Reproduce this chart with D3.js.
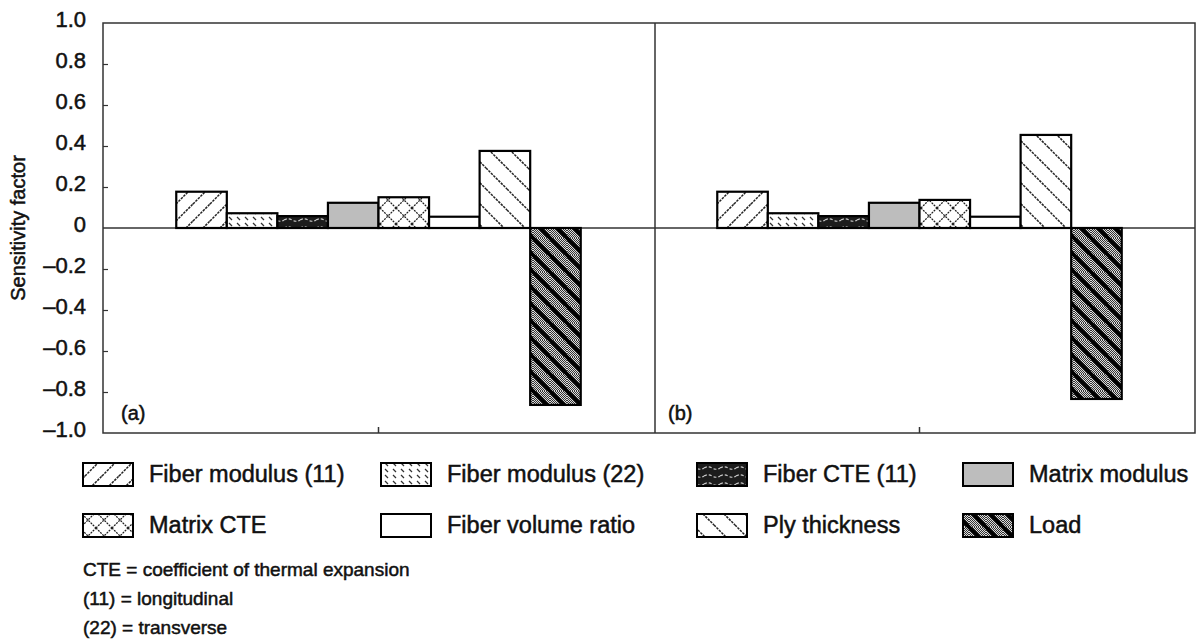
<!DOCTYPE html>
<html lang="en">

<head>
    <meta charset="UTF-8">
    <script src="https://d3js.org/d3.v7.min.js"></script>
    <title>Sensitivity factors</title>
    <style>
        body { margin: 0; background: #fff; }
        text { font-family: "Liberation Sans", Arial, sans-serif; fill: #111; stroke: #111; stroke-width: 0.5px; }
    </style>
</head>

<body>
    <script>
        // data
        let panels = ["(a)", "(b)"];
        let factors = ["Fiber modulus (11)", "Fiber modulus (22)", "Fiber CTE (11)", "Matrix modulus",
            "Matrix CTE", "Fiber volume ratio", "Ply thickness", "Load"];
        let valuesA = [0.177, 0.072, 0.058, 0.123, 0.150, 0.055, 0.376, -0.863];
        let valuesB = [0.177, 0.072, 0.058, 0.123, 0.137, 0.055, 0.454, -0.834];
        let yTicks = [-1.0, -0.8, -0.6, -0.4, -0.2, 0, 0.2, 0.4, 0.6, 0.8, 1.0];
        let notes = ["CTE = coefficient of thermal expansion", "(11) = longitudinal", "(22) = transverse"];

        let fills = ["url(#pFm11)", "url(#pFm22)", "url(#pCte11)", "#bdbdbd",
            "url(#pMcte)", "#ffffff", "url(#pPly)", "url(#pLoad)"];

        let width = 1200, height = 641;
        let plotLeft = 103, plotRight = 1195, plotTop = 23, plotBottom = 433, divider = 655;

        let svg = d3.select("body").append("svg")
            .attr("width", width)
            .attr("height", height);

        // ---- hatch patterns
        let defs = svg.append("defs");
        function hatch(id, size, d, color, w, dash) {
            let p = defs.append("pattern")
                .attr("id", id)
                .attr("patternUnits", "userSpaceOnUse")
                .attr("width", size)
                .attr("height", size);
            p.append("rect").attr("width", size).attr("height", size).attr("fill", "#fff");
            p.append("path")
                .attr("d", d)
                .attr("stroke", color)
                .attr("stroke-width", w)
                .attr("stroke-dasharray", dash)
                .attr("fill", "none");
            return p;
        }
        let s = 17;
        hatch("pFm11", s, `M0,${s} L${s},0 M-4,4 L4,-4 M${s - 4},${s + 4} L${s + 4},${s - 4}`, "#222", 1.5, "2.5,1");
        let t = 21;
        hatch("pPly", t, `M0,0 L${t},${t} M-4,${t - 4} L4,${t + 4} M${t - 4},-4 L${t + 4},4`, "#222", 1.5, "2.5,1");
        let c = 16;
        hatch("pMcte", c, `M0,${c} L${c},0 M-4,4 L4,-4 M${c - 4},${c + 4} L${c + 4},${c - 4} M0,0 L${c},${c} M-4,${c - 4} L4,${c + 4} M${c - 4},-4 L${c + 4},4`, "#222", 1.3, "2,1");

        let fm22 = defs.append("pattern").attr("id", "pFm22")
            .attr("patternUnits", "userSpaceOnUse").attr("width", 8).attr("height", 6);
        fm22.append("rect").attr("width", 8).attr("height", 6).attr("fill", "#fff");
        fm22.append("path").attr("d", "M1,1 L4,4").attr("stroke", "#333").attr("stroke-width", 1.3);

        let cte = defs.append("pattern").attr("id", "pCte11")
            .attr("patternUnits", "userSpaceOnUse").attr("width", 16).attr("height", 8);
        cte.append("rect").attr("width", 16).attr("height", 8).attr("fill", "#1c1c1c");
        cte.append("path").attr("d", "M0,4 Q4,1.5 8,4 T16,4")
            .attr("stroke", "#c8c8c8").attr("stroke-width", 1.2)
            .attr("stroke-dasharray", "3,2").attr("fill", "none");

        let chk = defs.append("pattern").attr("id", "pChk")
            .attr("patternUnits", "userSpaceOnUse").attr("width", 2).attr("height", 2);
        chk.append("rect").attr("width", 2).attr("height", 2).attr("fill", "#333");
        chk.append("rect").attr("width", 1).attr("height", 1).attr("fill", "#dcdcdc");
        chk.append("rect").attr("x", 1).attr("y", 1).attr("width", 1).attr("height", 1).attr("fill", "#dcdcdc");

        let L = 17;
        let load = defs.append("pattern").attr("id", "pLoad")
            .attr("patternUnits", "userSpaceOnUse").attr("width", L).attr("height", L);
        load.append("rect").attr("width", L).attr("height", L).attr("fill", "url(#pChk)");
        load.append("path")
            .attr("d", `M0,0 L${L},${L} M-4,${L - 4} L4,${L + 4} M${L - 4},-4 L${L + 4},4`)
            .attr("stroke", "#000").attr("stroke-width", 3.8);

        // ---- scales
        let x0 = d3.scaleBand()
            .domain(panels)
            .range([108, 1190]);
        let x1 = d3.scaleBand()
            .domain(factors)
            .range([0, x0.bandwidth()])
            .paddingInner(0)
            .paddingOuter(1.35);
        let y = d3.scaleLinear()
            .domain([-1, 1])
            .range([plotBottom, plotTop]);

        // ---- axis
        let fmt = v => v === 0 ? "0" : (v < 0 ? "\u2013" : "") + Math.abs(v).toFixed(1);
        let yAxis = d3.axisLeft(y)
            .tickValues(yTicks)
            .tickSizeInner(-5)
            .tickSizeOuter(0)
            .tickPadding(17)
            .tickFormat(fmt);
        let ax = svg.append("g")
            .attr("transform", `translate(${plotLeft},0)`)
            .call(yAxis);
        ax.select(".domain").remove();
        ax.selectAll(".tick line").attr("stroke", "#333").attr("stroke-width", 1.2)
            .filter(d => d === 1 || d === -1 || d === 0).remove();
        ax.selectAll(".tick text")
            .attr("font-size", 22)
            .attr("dy", "0.14em")
            .style("font-family", "'Liberation Sans', Arial, sans-serif")
            .attr("fill", "#111");

        svg.append("text")
            .attr("transform", `translate(25,${y(0)}) rotate(-90)`)
            .attr("text-anchor", "middle")
            .attr("font-size", 20)
            .text("Sensitivity factor");

        // frame
        let frame = svg.append("g").attr("stroke", "#333").attr("stroke-width", 1.5).attr("fill", "none");
        frame.append("rect")
            .attr("x", plotLeft).attr("y", plotTop)
            .attr("width", plotRight - plotLeft).attr("height", plotBottom - plotTop);
        frame.append("line")
            .attr("x1", divider).attr("x2", divider)
            .attr("y1", plotTop).attr("y2", plotBottom);
        frame.append("line")
            .attr("x1", plotLeft).attr("x2", plotRight)
            .attr("y1", y(0)).attr("y2", y(0));
        panels.forEach(p => {
            frame.append("line")
                .attr("x1", x0(p) + x0.bandwidth() / 2).attr("x2", x0(p) + x0.bandwidth() / 2)
                .attr("y1", plotBottom).attr("y2", plotBottom - 6);
        });

        // panel labels
        svg.append("text")
            .attr("x", plotLeft + 18).attr("y", 420)
            .attr("font-size", 20)
            .text(panels[0]);
        svg.append("text")
            .attr("x", divider + 13).attr("y", 420)
            .attr("font-size", 20)
            .text(panels[1]);

        // ---- bars
        let series = [valuesA, valuesB];
        panels.forEach((p, pi) => {
            let g = svg.append("g").attr("transform", `translate(${x0(p)},0)`);
            g.selectAll("rect")
                .data(factors.map((f, i) => ({ f: f, v: series[pi][i], fill: fills[i] })))
                .join("rect")
                .attr("x", d => x1(d.f))
                .attr("y", d => y(Math.max(0, d.v)))
                .attr("width", x1.bandwidth())
                .attr("height", d => Math.abs(y(d.v) - y(0)))
                .attr("fill", d => d.fill)
                .attr("stroke", "#000")
                .attr("stroke-width", 2.2);
        });

        // ---- legend
        let legendCols = [83, 381, 697, 963];
        let legendRows = [463, 514];
        factors.forEach((f, i) => {
            let lx = legendCols[i % 4];
            let ly = legendRows[Math.floor(i / 4)];
            svg.append("rect")
                .attr("x", lx).attr("y", ly)
                .attr("width", 50).attr("height", 23)
                .attr("fill", fills[i])
                .attr("stroke", "#000")
                .attr("stroke-width", 2);
            svg.append("text")
                .attr("x", lx + 66).attr("y", ly + 19)
                .attr("font-size", 23.5)
                .text(f);
        });

        // ---- notes
        notes.forEach((n, i) => {
            svg.append("text")
                .attr("x", 83).attr("y", 576 + i * 29)
                .attr("font-size", 19)
                .text(n);
        });
    </script>
</body>

</html>
